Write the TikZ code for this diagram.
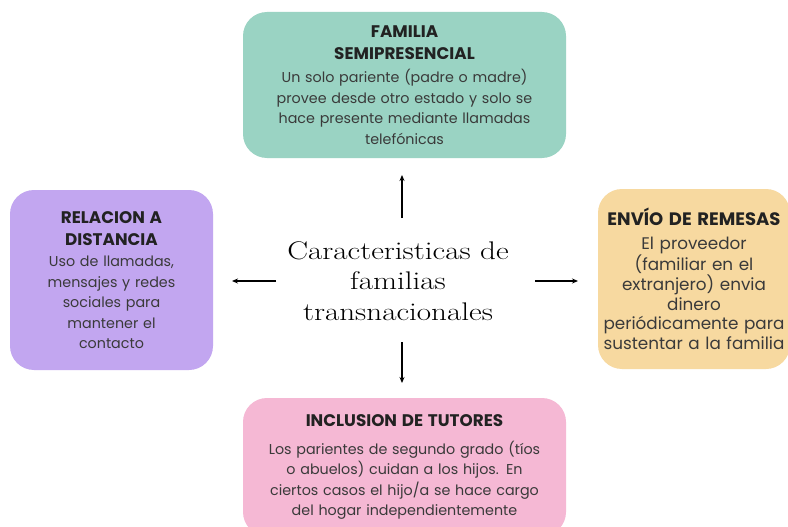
\documentclass[tikz,border=0pt]{standalone}
\usepackage{fontspec}
\setmainfont{Poppins}
\newfontfamily\centerfont[FakeStretch=1.22]{Latin Modern Roman}
\usetikzlibrary{arrows.meta}
\definecolor{mint}{HTML}{9AD3C3}
\definecolor{lav}{HTML}{C2A6F0}
\definecolor{sand}{HTML}{F7D9A0}
\definecolor{rose}{HTML}{F5B8D4}
\definecolor{ink}{HTML}{3A3A3A}
\definecolor{titleink}{HTML}{222222}
\newcommand{\boxtitle}[2][16.8]{{\fontsize{#1}{22}\selectfont\bfseries\color{titleink}#2\par}\vspace{1pt}}
\begin{document}
\begin{tikzpicture}[x=1pt,y=-1pt,
  card/.style={rounded corners=24pt, inner sep=0pt, align=center, text=ink,
    font=\fontsize{14.3}{20.5}\selectfont},
  conn/.style={-{Stealth[length=6pt,width=5pt]}, line width=1.3pt, black}]
\useasboundingbox (0,0) rectangle (788,527);
\clip (0,0) rectangle (788,527);
\fill[white] (0,0) rectangle (788,527);
\node[card, fill=mint, minimum width=323pt, minimum height=146pt, text width=310pt] (top) at (404.5,85)
  {\boxtitle{FAMILIA\\SEMIPRESENCIAL}\vspace{1.5pt}Un solo pariente (padre o madre)\\provee desde otro estado y solo se\\hace presente mediante llamadas\\telefónicas};
\node[card, fill=lav, minimum width=203pt, minimum height=180pt, text width=195pt] (left) at (111.5,280)
  {\boxtitle{RELACION A\\DISTANCIA}Uso de llamadas,\\mensajes y redes\\sociales para\\mantener el\\contacto};
\node[card, fill=sand, minimum width=192pt, minimum height=180pt, text width=190pt, font=\fontsize{16.8}{19.8}\selectfont] (right) at (694,279)
  {\boxtitle[18]{ENVÍO DE REMESAS}\vspace{3pt}El proveedor\\(familiar en el\\extranjero) envia\\dinero\\periódicamente para\\sustentar a la familia};
\node[card, fill=rose, minimum width=323pt, minimum height=138pt, text width=318pt] (bottom) at (404.5,467)
  {\boxtitle{INCLUSION DE TUTORES}\vspace{6pt}Los parientes de segundo grado (tíos\\o abuelos) cuidan a los hijos. En\\ciertos casos el hijo/a se hace cargo\\del hogar independientemente};
\node[align=center, font=\centerfont\fontsize{25.5}{30.5}\selectfont, text=black] (center) at (398,281)
  {Caracteristicas de\\familias\\transnacionales};
\coordinate (upA) at (402,218); \coordinate (upB) at (402,175);
\coordinate (dnA) at (402,342); \coordinate (dnB) at (402,383);
\coordinate (lfA) at (276,281); \coordinate (lfB) at (232,281);
\coordinate (rtA) at (535,281); \coordinate (rtB) at (578,281);
\draw[conn] (upA) -- (upB);
\draw[conn] (dnA) -- (dnB);
\draw[conn] (lfA) -- (lfB);
\draw[conn] (rtA) -- (rtB);
\end{tikzpicture}
\end{document}
